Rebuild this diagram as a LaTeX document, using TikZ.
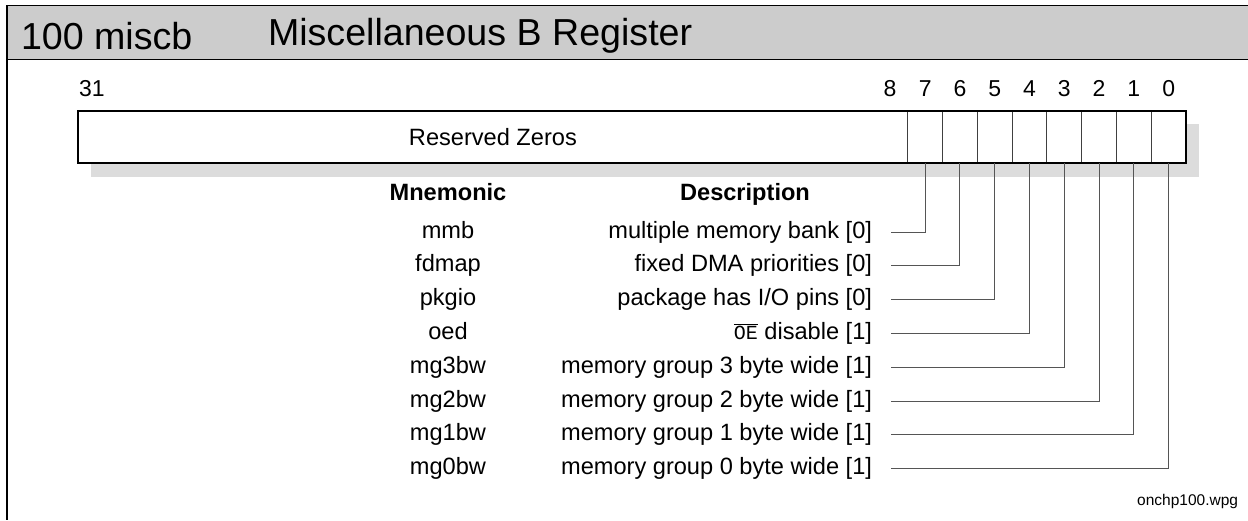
\documentclass[tikz,border=0pt]{standalone}
\usepackage{fontspec}
\setmainfont{Liberation Sans}
\newfontfamily\oefont{Liberation Mono}
\definecolor{headgray}{HTML}{CCCCCC}
\definecolor{shadowgray}{HTML}{DCDCDC}
\definecolor{wiregray}{HTML}{555555}
% active-low output enable signal name
\newcommand{\oebar}{$\overline{\hbox{\oefont\fontsize{20}{23}\selectfont OE}}$}

\begin{document}
\begin{tikzpicture}[x=1pt,y=-1pt,
  every node/.style={inner sep=0pt, outer sep=0pt},
  titletext/.style={font=\fontsize{37.6}{42}\selectfont, anchor=west},
  bitnum/.style={font=\fontsize{23}{27}\selectfont, text height=16.5pt, text depth=0pt},
  body/.style={font=\fontsize{23.6}{28}\selectfont, text height=17pt, text depth=5pt},
  headtext/.style={font=\fontsize{23.6}{28}\selectfont\bfseries, text height=17pt, text depth=5pt},
  desc/.style={body, anchor=east},
  mnem/.style={body},
  cell/.style={draw=black!75, fill=white, line width=0.9pt, minimum width=34.78pt, minimum height=52pt, anchor=north west},
  wire/.style={draw=wiregray, line width=1pt},
]
\useasboundingbox (0,0) rectangle (1248,520);

% title band
\fill[headgray] (7,5.5) rectangle (1248,59.5);
\draw[line width=1.2pt] (1248,5.5) -- (7,5.5) -- (7,520);
\draw[line width=1.2pt] (7,59.5) -- (1248,59.5);
\node[titletext] (regnum) at (21,36) {100 miscb};
\node[titletext] (regname) at (268,36) {Miscellaneous B Register};

% register drawing with drop shadow
\fill[shadowgray] (91,124) rectangle (1199,177);
\node[draw=black, fill=white, line width=1.2pt, minimum width=829.8pt, minimum height=52pt, anchor=north west,
      font=\fontsize{23.6}{28}\selectfont] (res) at (78,111) {Reserved Zeros};
\foreach \i in {7,...,0} {
  \node[cell] (b\i) at ({907.8+(7-\i)*34.78},111) {};
  \node[bitnum] (n\i) at ({907.8+(7.5-\i)*34.78},88) {\i};
}
\draw[line width=1.2pt] (78,111) rectangle (1186,163);
\node[bitnum] (n31) at (92,88) {31};
\node[bitnum] (n8) at (890,88) {8};

% field table
\node[headtext] (mhead) at (448,194) {Mnemonic};
\node[headtext] (dhead) at (745,194) {Description};
\foreach \m/\d [count=\k from 0] in {
  mmb/{multiple memory bank [0]},
  fdmap/{fixed DMA priorities [0]},
  pkgio/{package has I/O pins [0]},
  oed/{\oebar{} disable [1]},
  mg3bw/{memory group 3 byte wide [1]},
  mg2bw/{memory group 2 byte wide [1]},
  mg1bw/{memory group 1 byte wide [1]},
  mg0bw/{memory group 0 byte wide [1]}} {
  \pgfmathsetmacro\yy{232+33.8*\k}
  \pgfmathtruncatemacro\bb{7-\k}
  \node[mnem] (m\k) at (448,\yy) {\m};
  \node[desc] (d\k) at (872,\yy) {\d};
  \draw[wire] (b\bb.south) |- ([xshift=19pt]d\k.east);
}

\node[font=\fontsize{15.5}{18}\selectfont, anchor=east] (fname) at (1238,501) {onchp100.wpg};
\end{tikzpicture}
\end{document}
